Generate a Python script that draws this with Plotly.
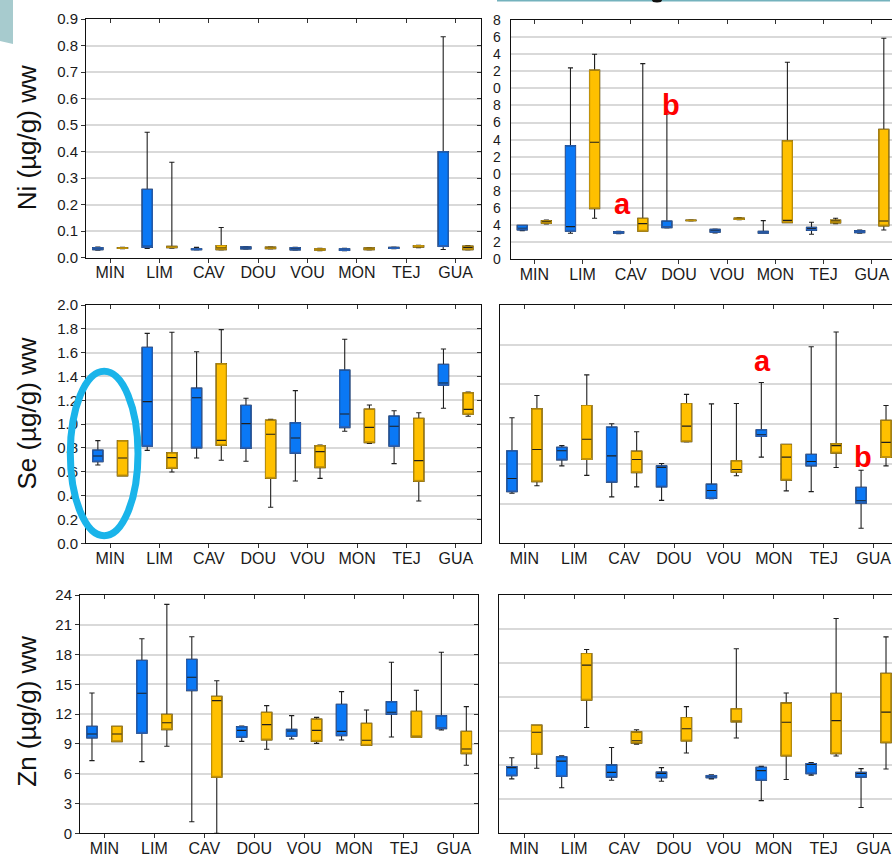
import plotly.graph_objects as go

W, H = 892, 859

sites = ["MIN", "LIM", "CAV", "DOU", "VOU", "MON", "TEJ", "GUA"]

# ---- Ni, left panel (µg/g ww) ----
ni_left_blue = dict(
    lo=[0.028, 0.035, 0.029, 0.032, 0.028, 0.026, 0.034, 0.031],
    q1=[0.030, 0.039, 0.030, 0.033, 0.029, 0.027, 0.035, 0.042],
    med=[0.033, 0.040, 0.032, 0.037, 0.034, 0.030, 0.037, 0.045],
    q3=[0.038, 0.258, 0.034, 0.041, 0.038, 0.034, 0.039, 0.400],
    hi=[0.040, 0.473, 0.039, 0.042, 0.039, 0.035, 0.040, 0.833],
)
ni_left_orange = dict(
    lo=[0.034, 0.036, 0.029, 0.033, 0.026, 0.029, 0.038, 0.029],
    q1=[0.035, 0.038, 0.030, 0.034, 0.028, 0.030, 0.040, 0.030],
    med=[0.036, 0.041, 0.036, 0.038, 0.031, 0.034, 0.043, 0.038],
    q3=[0.038, 0.043, 0.046, 0.040, 0.034, 0.037, 0.046, 0.044],
    hi=[0.039, 0.360, 0.114, 0.041, 0.035, 0.038, 0.047, 0.046],
)
# ---- Ni, right panel (axis units, labels clipped) ----
ni_right_blue = dict(
    lo=[3.35, 3.04, 3.00, 3.67, 3.08, 3.04, 2.93, 3.04],
    q1=[3.43, 3.28, 3.05, 3.70, 3.16, 3.06, 3.39, 3.12],
    med=[3.63, 3.82, 3.12, 3.82, 3.43, 3.16, 3.63, 3.28],
    q3=[3.98, 13.30, 3.24, 4.49, 3.51, 3.28, 3.74, 3.35],
    hi=[3.98, 22.40, 3.28, 17.00, 3.55, 4.52, 4.33, 3.43],
)
ni_right_orange = dict(
    lo=[4.13, 4.80, 3.28, 4.50, 4.64, 4.29, 4.17, 3.43],
    q1=[4.21, 5.93, 3.28, 4.52, 4.66, 4.29, 4.25, 3.90],
    med=[4.41, 13.69, 4.17, 4.56, 4.76, 4.56, 4.49, 4.49],
    q3=[4.52, 22.15, 4.80, 4.60, 4.84, 13.88, 4.60, 15.21],
    hi=[4.60, 24.00, 22.90, 4.62, 4.88, 23.05, 4.80, 25.86],
)
ni_right_ticks = list(range(0, 29, 2))
ni_right_ticktext = [str(v % 10) for v in ni_right_ticks]

# ---- Se, left panel ----
se_left_blue = dict(
    lo=[0.657, 0.780, 0.716, 0.688, 0.523, 0.940, 0.669, 1.133],
    q1=[0.685, 0.814, 0.800, 0.797, 0.755, 0.971, 0.814, 1.326],
    med=[0.733, 1.189, 1.222, 1.004, 0.884, 1.085, 0.982, 1.345],
    q3=[0.783, 1.645, 1.303, 1.158, 1.013, 1.455, 1.069, 1.502],
    hi=[0.862, 1.762, 1.608, 1.217, 1.281, 1.712, 1.113, 1.631],
)
se_left_orange = dict(
    lo=[0.565, 0.599, 0.697, 0.302, 0.545, 0.839, 0.355, 1.066],
    q1=[0.565, 0.629, 0.822, 0.545, 0.635, 0.845, 0.520, 1.083],
    med=[0.716, 0.719, 0.864, 0.915, 0.769, 0.973, 0.694, 1.124],
    q3=[0.862, 0.761, 1.508, 1.035, 0.820, 1.127, 1.049, 1.264],
    hi=[0.862, 1.771, 1.793, 1.040, 0.825, 1.161, 1.096, 1.270],
)
# ---- Se, right panel (axis units) ----
se_right_blue = dict(
    lo=[1.26, 1.95, 1.17, 1.08, 1.12, 2.17, 1.30, 0.38],
    q1=[1.30, 2.10, 1.54, 1.42, 1.13, 2.69, 1.95, 1.01],
    med=[1.63, 2.33, 2.20, 1.91, 1.33, 2.73, 2.06, 1.07],
    q3=[2.33, 2.42, 2.93, 1.95, 1.49, 2.86, 2.24, 1.41],
    hi=[3.16, 2.46, 3.01, 2.01, 3.51, 4.05, 4.95, 1.84],
)
se_right_orange = dict(
    lo=[1.45, 1.71, 1.42, 2.55, 1.70, 1.32, 1.91, 1.95],
    q1=[1.55, 2.11, 1.78, 2.56, 1.79, 1.59, 2.27, 2.16],
    med=[2.36, 2.62, 2.11, 2.95, 1.86, 2.17, 2.46, 2.54],
    q3=[3.39, 3.47, 2.32, 3.52, 2.08, 2.49, 2.51, 3.10],
    hi=[3.72, 4.24, 2.81, 3.75, 3.52, 2.49, 5.32, 3.47],
)
# ---- Zn, left panel ----
zn_left_blue = dict(
    lo=[7.32, 7.22, 1.17, 9.26, 9.50, 9.40, 9.70, 10.41],
    q1=[9.60, 10.07, 14.37, 9.67, 9.77, 9.84, 11.98, 10.54],
    med=[10.00, 14.10, 15.71, 10.37, 10.31, 10.27, 12.19, 10.57],
    q3=[10.78, 17.42, 17.52, 10.74, 10.47, 12.99, 13.26, 11.85],
    hi=[14.13, 19.60, 19.80, 10.81, 11.85, 14.27, 17.22, 18.23],
)
zn_left_orange = dict(
    lo=[9.23, 8.76, 0.00, 8.46, 9.06, 8.86, 9.67, 6.85],
    q1=[9.23, 10.44, 5.64, 9.40, 9.26, 8.86, 9.67, 8.02],
    med=[10.00, 11.14, 13.36, 10.94, 10.37, 9.37, 9.73, 8.49],
    q3=[10.78, 11.98, 13.80, 12.19, 11.51, 11.08, 12.29, 10.27],
    hi=[10.78, 23.06, 15.37, 12.86, 11.68, 12.42, 14.40, 12.76],
)
# ---- Zn, right panel (axis units) ----
zn_right_blue = dict(
    lo=[1.60, 1.34, 1.56, 1.53, 1.60, 0.96, 1.71, 0.76],
    q1=[1.69, 1.67, 1.65, 1.63, 1.63, 1.56, 1.75, 1.65],
    med=[1.94, 2.12, 1.79, 1.76, 1.67, 1.84, 2.03, 1.79],
    q3=[1.96, 2.25, 2.01, 1.80, 1.70, 1.94, 2.05, 1.79],
    hi=[2.22, 2.28, 2.52, 1.93, 1.72, 1.97, 2.08, 1.90],
)
zn_right_orange = dict(
    lo=[1.91, 3.11, 2.62, 2.36, 2.80, 1.58, 2.27, 1.89],
    q1=[2.32, 3.91, 2.65, 2.71, 3.27, 2.27, 2.34, 2.66],
    med=[2.97, 4.94, 2.72, 3.07, 3.28, 3.26, 3.31, 3.56],
    q3=[3.18, 5.28, 2.98, 3.40, 3.66, 3.83, 4.11, 4.70],
    hi=[3.18, 5.40, 3.04, 3.72, 5.42, 4.12, 6.31, 5.77],
)

y_titles = ["Ni (µg/g) ww", "Se (µg/g) ww", "Zn (µg/g) ww"]

BLUE_FILL, BLUE_EDGE = "#0A78F5", "#2A62B8"
ORANGE_FILL, ORANGE_EDGE = "#FFC000", "#C0920A"
GRID = "#D9D9D9"
FONT = "Liberation Sans, Arial, sans-serif"


def fx(x):
    return x / W


def fy(y):
    return 1 - y / H


panels = [
    dict(n=1, data=(ni_left_blue, ni_left_orange), xd=(86, 480.7), yd=(19, 257.7),
         xr=[-0.49, 7.51], yr=[0, 0.9], dtick=0.1, fmt=".1f", left=True),
    dict(n=2, data=(ni_right_blue, ni_right_orange), xd=(510.7, 892), yd=(20, 259.3),
         xr=[-0.49, 7.42], yr=[0, 28], dtick=2, left=False, digits=True),
    dict(n=3, data=(se_left_blue, se_left_orange), xd=(86, 481), yd=(305, 543.3),
         xr=[-0.49, 7.51], yr=[0, 2.0], dtick=0.2, fmt=".1f", left=True),
    dict(n=4, data=(se_right_blue, se_right_orange), xd=(500, 892), yd=(305, 543.3),
         xr=[-0.49, 7.37], yr=[0, 6], dtick=1, left=False),
    dict(n=5, data=(zn_left_blue, zn_left_orange), xd=(80, 478.3), yd=(595, 833.3),
         xr=[-0.49, 7.49], yr=[0, 24], dtick=3, fmt="d", left=True),
    dict(n=6, data=(zn_right_blue, zn_right_orange), xd=(499.3, 892), yd=(595, 833.3),
         xr=[-0.5, 7.37], yr=[0, 7], dtick=1, left=False),
]

fig = go.Figure()
layout = {}
extra_y = 7

for p in panels:
    n = p["n"]
    xa = "x" if n == 1 else f"x{n}"
    ya = "y" if n == 1 else f"y{n}"
    xkey = "xaxis" if n == 1 else f"xaxis{n}"
    ykey = "yaxis" if n == 1 else f"yaxis{n}"
    for s, fill, edge, grp in [(p["data"][0], BLUE_FILL, BLUE_EDGE, "b"),
                               (p["data"][1], ORANGE_FILL, ORANGE_EDGE, "o")]:
        fig.add_trace(go.Box(
            x=sites, q1=s["q1"], median=s["med"], q3=s["q3"],
            lowerfence=s["lo"], upperfence=s["hi"],
            fillcolor=fill, line=dict(color="#1E1E1E", width=1.1),
            whiskerwidth=0.5, offsetgroup=grp, xaxis=xa, yaxis=ya,
            hoverinfo="skip", showlegend=False, boxpoints=False))
        fig.add_trace(go.Box(
            x=sites, q1=s["q1"], median=s["q1"], q3=s["q3"],
            lowerfence=s["q1"], upperfence=s["q3"],
            fillcolor="rgba(0,0,0,0)", line=dict(color=edge, width=1),
            whiskerwidth=0, offsetgroup=grp, xaxis=xa, yaxis=ya,
            hoverinfo="skip", showlegend=False, boxpoints=False))

    layout[xkey] = dict(
        domain=[fx(p["xd"][0]), fx(p["xd"][1])], anchor=ya, automargin=False,
        type="category", categoryorder="array", categoryarray=sites,
        range=p["xr"], showgrid=False, zeroline=False,
        showline=True, linecolor="#111", linewidth=1, mirror=True,
        ticks="outside", ticklen=4, tickcolor="#333", ticklabelstandoff=-4,
        tickfont=dict(family=FONT, size=16, color="#1a1a1a"))
    yax = dict(
        domain=[fy(p["yd"][1]), fy(p["yd"][0])], anchor=xa, automargin=False,
        range=p["yr"], showgrid=True, gridcolor=GRID, gridwidth=1.5,
        zeroline=False, showline=True, linecolor="#111", linewidth=1,
        tickfont=dict(family=FONT, size=15, color="#1a1a1a"))
    if p["left"]:
        yax.update(dtick=p["dtick"], tick0=0, tickformat=p["fmt"], mirror=True,
                   ticks="outside", ticklen=4, tickcolor="#333")
    elif p.get("digits"):
        yax.update(tickmode="array", tickvals=ni_right_ticks,
                   ticktext=ni_right_ticktext, mirror=False, ticks="",
                   ticklabelstandoff=6, tickfont=dict(family=FONT, size=14, color="#1a1a1a"))
    else:
        yax.update(dtick=p["dtick"], tick0=0, mirror=False, ticks="",
                   showticklabels=False)
    layout[ykey] = yax

    # inward tick marks on the top edge (and right edge of left-hand panels)
    tx = f"x{n + 6}"
    layout[f"xaxis{n + 6}"] = dict(
        overlaying=xa, side="top", anchor=ya, automargin=False, type="linear",
        range=p["xr"], tickmode="array", tickvals=list(range(len(sites))),
        ticks="inside", ticklen=4, tickcolor="#333", showticklabels=False,
        showgrid=False, zeroline=False, showline=False)
    fig.add_trace(go.Scatter(x=[], y=[], xaxis=tx, yaxis=ya, showlegend=False, hoverinfo="skip"))
    if p["left"]:
        ty = f"y{extra_y + 6}"
        layout[f"yaxis{extra_y + 6}"] = dict(
            overlaying=ya, side="right", anchor=xa, automargin=False,
            range=p["yr"], dtick=p["dtick"], tick0=0,
            ticks="inside", ticklen=4, tickcolor="#333", showticklabels=False,
            showgrid=False, zeroline=False, showline=False)
        fig.add_trace(go.Scatter(x=[], y=[], xaxis=xa, yaxis=ty, showlegend=False, hoverinfo="skip"))
        extra_y += 1

annotations = []
for txt, yc in zip(y_titles, [138.3, 413.6, 711.7]):
    annotations.append(dict(text=txt, x=fx(27), y=fy(yc), xref="paper", yref="paper",
                            xanchor="center", yanchor="middle", textangle=-90,
                            showarrow=False, font=dict(family=FONT, size=26, color="#111")))

letters = [("a", 622.5, 204), ("b", 670.5, 105), ("a", 762.7, 361.5), ("b", 862.5, 456.5)]
for t, x, y in letters:
    annotations.append(dict(text=f"<b>{t}</b>", x=fx(x), y=fy(y), xref="paper", yref="paper",
                            xanchor="center", yanchor="middle", showarrow=False,
                            font=dict(family=FONT, size=29, color="#FF0000")))

shapes = [
    dict(type="circle", xref="paper", yref="paper", x0=fx(70.3), x1=fx(138),
         y0=fy(535.7), y1=fy(371.3), line=dict(color="#1AB4EA", width=7)),
    dict(type="path", xref="paper", yref="paper",
         path=f"M 0 1 L {fx(13)} 1 L {fx(13)} {fy(44)} L 0 {fy(41)} Z",
         fillcolor="#A7CBCE", line=dict(width=0)),
    dict(type="rect", xref="paper", yref="paper", x0=fx(497), x1=fx(890),
         y0=fy(1.4), y1=1, fillcolor="#74B2BD", line=dict(width=0)),
    dict(type="circle", xref="paper", yref="paper", x0=fx(652), x1=fx(662),
         y0=fy(2.5), y1=fy(-2.5), fillcolor="#111", line=dict(width=0)),
]

fig.update_layout(
    width=W, height=H, margin=dict(l=0, r=0, t=0, b=0, autoexpand=False),
    paper_bgcolor="white", plot_bgcolor="white",
    boxmode="group", boxgap=0.0, boxgroupgap=0.58,
    annotations=annotations, shapes=shapes, showlegend=False,
    **layout)

fig.write_html("out.html", config={"displayModeBar": False},
               post_script="document.body.style.margin='0';document.body.style.overflow='hidden';")
